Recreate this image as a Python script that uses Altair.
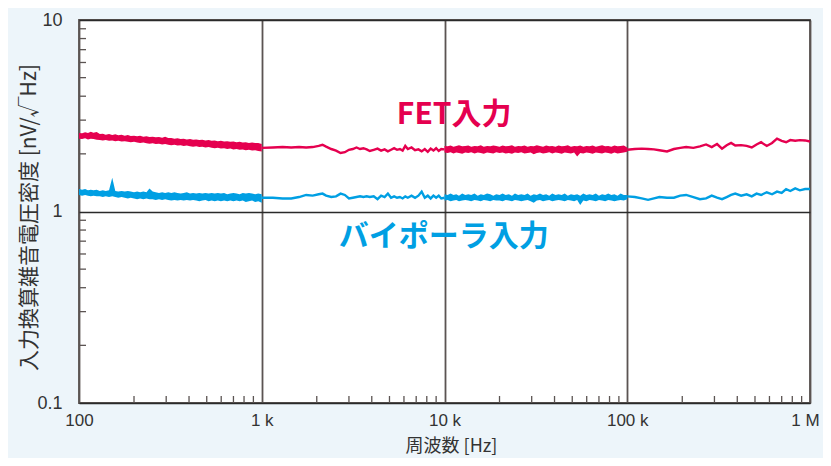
import altair as alt
import pandas as pd

# ---- data ----
# Dense (noisy) segments: upper / lower edge of the noise band
FREQ_A = [100, 104, 108, 112, 116, 120, 125, 130, 135, 140, 146, 152, 158, 164, 171, 178, 185, 192,
          200, 208, 216, 225, 234, 243, 253, 263, 274, 285, 296, 308, 320, 333, 346, 360, 374, 389,
          405, 421, 438, 455, 473, 492, 512, 532, 553, 575, 598, 622, 647, 673, 700, 728, 757, 787,
          818, 851, 885, 920, 957, 1000]
FET_A_HI = [2.57, 2.56, 2.59, 2.57, 2.61, 2.58, 2.60, 2.54, 2.55, 2.52, 2.54, 2.51, 2.53, 2.50, 2.52,
            2.49, 2.51, 2.48, 2.49, 2.47, 2.49, 2.46, 2.47, 2.45, 2.46, 2.44, 2.45, 2.43, 2.46, 2.42,
            2.42, 2.40, 2.41, 2.39, 2.40, 2.38, 2.39, 2.37, 2.38, 2.36, 2.37, 2.35, 2.36, 2.34, 2.35,
            2.33, 2.34, 2.32, 2.33, 2.31, 2.32, 2.30, 2.31, 2.29, 2.30, 2.28, 2.29, 2.28, 2.28, 2.25]
FET_A_LO = [2.40, 2.39, 2.41, 2.38, 2.40, 2.39, 2.37, 2.36, 2.35, 2.36, 2.34, 2.35, 2.33, 2.34, 2.32,
            2.33, 2.31, 2.30, 2.31, 2.29, 2.28, 2.29, 2.27, 2.26, 2.27, 2.25, 2.26, 2.24, 2.25, 2.23,
            2.22, 2.23, 2.21, 2.22, 2.20, 2.21, 2.19, 2.18, 2.19, 2.17, 2.18, 2.16, 2.17, 2.15, 2.14,
            2.15, 2.13, 2.14, 2.12, 2.13, 2.11, 2.12, 2.10, 2.11, 2.09, 2.10, 2.08, 2.09, 2.07, 2.06]
BIP_A_HI = [1.31, 1.30, 1.31, 1.29, 1.30, 1.29, 1.30, 1.28, 1.29, 1.28, 1.29, 1.50, 1.28, 1.27, 1.28,
            1.27, 1.28, 1.27, 1.26, 1.27, 1.26, 1.27, 1.26, 1.32, 1.27, 1.26, 1.25, 1.26, 1.25, 1.26,
            1.25, 1.26, 1.25, 1.24, 1.25, 1.26, 1.24, 1.25, 1.24, 1.25, 1.24, 1.25, 1.24, 1.25, 1.24,
            1.25, 1.24, 1.25, 1.23, 1.24, 1.25, 1.24, 1.23, 1.25, 1.24, 1.25, 1.24, 1.23, 1.24, 1.23]
BIP_A_LO = [1.22, 1.21, 1.22, 1.21, 1.20, 1.21, 1.20, 1.20, 1.19, 1.20, 1.19, 1.20, 1.19, 1.18, 1.19,
            1.18, 1.17, 1.18, 1.17, 1.16, 1.17, 1.16, 1.17, 1.16, 1.16, 1.15, 1.16, 1.15, 1.16, 1.15,
            1.14, 1.15, 1.14, 1.15, 1.14, 1.15, 1.14, 1.15, 1.14, 1.13, 1.14, 1.15, 1.13, 1.14, 1.13,
            1.14, 1.13, 1.14, 1.13, 1.14, 1.13, 1.14, 1.13, 1.14, 1.12, 1.13, 1.14, 1.12, 1.13, 1.11]

FREQ_C = [10000, 10400, 10800, 11200, 11600, 12000, 12500, 13000, 13500, 14000, 14600, 15200, 15800,
          16400, 17100, 17800, 18500, 19200, 20000, 20800, 21600, 22500, 23400, 24300, 25300, 26300,
          27400, 28500, 29600, 30800, 32000, 33300, 34600, 36000, 37400, 38900, 40500, 42100, 43800,
          45500, 47300, 49200, 51200, 53200, 55300, 57500, 59800, 62200, 64700, 67300, 70000, 72800,
          75700, 78700, 81800, 85100, 88500, 92000, 95700, 100000]
FET_C_HI = [2.20, 2.19, 2.21, 2.18, 2.20, 2.22, 2.19, 2.20, 2.21, 2.18, 2.20, 2.19, 2.22, 2.18, 2.20,
            2.19, 2.21, 2.20, 2.18, 2.21, 2.19, 2.20, 2.22, 2.18, 2.20, 2.19, 2.21, 2.18, 2.20, 2.19,
            2.22, 2.20, 2.18, 2.21, 2.19, 2.20, 2.18, 2.21, 2.19, 2.20, 2.22, 2.18, 2.20, 2.19, 2.21,
            2.18, 2.20, 2.19, 2.21, 2.18, 2.20, 2.22, 2.19, 2.20, 2.18, 2.21, 2.19, 2.20, 2.21, 2.16]
FET_C_LO = [2.03, 2.02, 2.04, 2.01, 2.03, 2.02, 2.00, 2.03, 2.02, 2.04, 2.01, 2.03, 2.02, 2.00, 2.03,
            2.02, 2.01, 2.04, 2.02, 2.03, 2.01, 2.02, 2.00, 2.03, 2.02, 2.04, 2.01, 2.02, 2.03, 1.99,
            2.02, 2.03, 2.01, 2.02, 2.04, 2.01, 2.03, 2.02, 2.00, 2.03, 2.02, 2.01, 2.03, 1.94, 2.02,
            2.01, 2.03, 2.02, 2.00, 2.03, 2.02, 2.01, 2.03, 2.02, 2.00, 2.03, 2.01, 2.02, 2.03, 2.05]
BIP_C_HI = [1.23, 1.22, 1.24, 1.22, 1.23, 1.21, 1.24, 1.22, 1.23, 1.22, 1.24, 1.21, 1.23, 1.22, 1.24,
            1.23, 1.21, 1.23, 1.22, 1.24, 1.22, 1.23, 1.21, 1.24, 1.22, 1.23, 1.22, 1.24, 1.21, 1.23,
            1.22, 1.24, 1.22, 1.23, 1.21, 1.24, 1.22, 1.23, 1.22, 1.24, 1.21, 1.23, 1.22, 1.23, 1.21,
            1.24, 1.22, 1.23, 1.22, 1.24, 1.21, 1.23, 1.22, 1.24, 1.22, 1.23, 1.21, 1.24, 1.22, 1.22]
BIP_C_LO = [1.14, 1.15, 1.13, 1.14, 1.15, 1.13, 1.14, 1.15, 1.14, 1.13, 1.15, 1.14, 1.13, 1.15, 1.14,
            1.13, 1.15, 1.14, 1.14, 1.13, 1.15, 1.14, 1.13, 1.15, 1.14, 1.13, 1.14, 1.15, 1.13, 1.11,
            1.14, 1.15, 1.13, 1.14, 1.15, 1.13, 1.14, 1.15, 1.14, 1.13, 1.15, 1.14, 1.13, 1.15, 1.08,
            1.14, 1.13, 1.15, 1.14, 1.13, 1.15, 1.14, 1.13, 1.15, 1.14, 1.13, 1.14, 1.15, 1.14, 1.16]

# Smoother segments: single trace
FREQ_B = [1000, 1150, 1300, 1450, 1600, 1750, 1900, 2050, 2150, 2250, 2400, 2550, 2700, 2850, 3000,
          3150, 3300, 3450, 3600, 3750, 3900, 4100, 4300, 4500, 4700, 4900, 5100, 5300, 5500, 5700,
          5900, 6100, 6300, 6600, 6900, 7200, 7500, 7800, 8100, 8400, 8700, 9000, 9300, 9600, 10000]
FET_B = [2.15, 2.16, 2.17, 2.16, 2.17, 2.16, 2.17, 2.20, 2.23, 2.18, 2.12, 2.08, 2.02, 2.04, 2.10,
         2.12, 2.16, 2.12, 2.14, 2.11, 2.07, 2.10, 2.13, 2.08, 2.11, 2.06, 2.10, 2.14, 2.10, 2.12,
         2.08, 2.20, 2.12, 2.16, 2.09, 2.11, 2.06, 2.12, 2.05, 2.13, 2.08, 2.14, 2.07, 2.12, 2.11]
BIP_B = [1.18, 1.18, 1.17, 1.17, 1.19, 1.22, 1.21, 1.23, 1.24, 1.21, 1.19, 1.20, 1.24, 1.22, 1.17,
         1.18, 1.19, 1.20, 1.19, 1.20, 1.19, 1.20, 1.16, 1.21, 1.19, 1.24, 1.18, 1.20, 1.18, 1.19,
         1.17, 1.20, 1.18, 1.21, 1.18, 1.21, 1.27, 1.18, 1.21, 1.17, 1.21, 1.18, 1.21, 1.17, 1.18]

FREQ_D = [100000, 110000, 120000, 130000, 140000, 150000, 165000, 180000, 195000, 210000, 230000,
          250000, 270000, 290000, 310000, 330000, 350000, 370000, 390000, 420000, 450000, 480000,
          510000, 540000, 580000, 620000, 660000, 700000, 740000, 780000, 830000, 880000, 940000,
          1000000]
FET_D = [2.10, 2.12, 2.13, 2.12, 2.11, 2.09, 2.06, 2.12, 2.15, 2.17, 2.15, 2.19, 2.24, 2.17, 2.25,
         2.13, 2.22, 2.28, 2.21, 2.22, 2.20, 2.16, 2.24, 2.30, 2.20, 2.28, 2.40, 2.34, 2.30, 2.36,
         2.34, 2.36, 2.35, 2.32]
BIP_D = [1.20, 1.19, 1.17, 1.15, 1.17, 1.19, 1.18, 1.18, 1.21, 1.22, 1.19, 1.16, 1.17, 1.21, 1.18,
         1.16, 1.19, 1.22, 1.24, 1.21, 1.23, 1.20, 1.24, 1.22, 1.26, 1.23, 1.27, 1.25, 1.31, 1.28,
         1.32, 1.29, 1.31, 1.31]

SERIES = ["FET入力", "バイポーラ入力"]
COLORS = ["#e5004f", "#009fe3"]

X_DECADES = [100, 1000, 10000, 100000, 1000000]
X_TICK_LABELS = ["100", "1 k", "10 k", "100 k", "1 M"]
Y_DECADES = [0.1, 1, 10]
MINOR_MULT = [2, 3, 4, 5, 6, 7, 8, 9]

LABEL_F = [11300, 9900]
LABEL_V = [3.2, 0.735]

# ---- tables ----
band_rows = []
for seg, freqs, bands in [("A", FREQ_A, [(FET_A_LO, FET_A_HI), (BIP_A_LO, BIP_A_HI)]),
                          ("C", FREQ_C, [(FET_C_LO, FET_C_HI), (BIP_C_LO, BIP_C_HI)])]:
    for name, (lo, hi) in zip(SERIES, bands):
        for f, a, b in zip(freqs, lo, hi):
            band_rows.append({"f": f, "lo": a, "hi": b, "s": name, "seg": seg + name})
band_df = pd.DataFrame(band_rows)

line_rows = []
for seg, freqs, traces in [("B", FREQ_B, [FET_B, BIP_B]), ("D", FREQ_D, [FET_D, BIP_D])]:
    for name, vals in zip(SERIES, traces):
        for f, v in zip(freqs, vals):
            line_rows.append({"f": f, "v": v, "s": name, "seg": seg + name})
line_df = pd.DataFrame(line_rows)

minor_x = pd.DataFrame({"f": [d * m for d in X_DECADES[:-1] for m in MINOR_MULT]})
minor_y = pd.DataFrame({"v": [d * m for d in Y_DECADES[:-1] for m in MINOR_MULT]})
labels = pd.DataFrame({"f": LABEL_F, "v": LABEL_V, "s": SERIES})

W, H = 731, 383
xscale = alt.Scale(type="log", domain=[100, 1000000], nice=False)
yscale = alt.Scale(type="log", domain=[0.1, 10], nice=False)
cscale = alt.Scale(domain=SERIES, range=COLORS)

label_expr = "[" + ",".join("'%s'" % t for t in X_TICK_LABELS) + "][round(log(datum.value)/LN10)-2]"

x_axis = alt.Axis(values=X_DECADES, labelExpr=label_expr, ticks=False, tickSize=0, domain=False,
                  grid=True, gridColor="#5b5452", gridWidth=1.8,
                  labelFont="Liberation Sans", labelFontSize=17, labelColor="#333333",
                  labelPadding=9, labelFlush=False, labelOverlap=False,
                  labelOffset={"condition": {"test": "datum.value >= 1000000", "value": -5},
                               "value": 0},
                  title="周波数 [Hz]", titleFont="Noto Sans CJK JP", titleFontSize=18,
                  titleFontWeight="normal", titleColor="#333333",
                  titleX=372, titleY=43, titleAlign="center", titleBaseline="middle")
y_axis = alt.Axis(values=Y_DECADES, format="~g", ticks=False, tickSize=0, domain=False,
                  grid=True, gridColor="#2a2a2a", gridWidth=1.3,
                  labelFont="Liberation Sans", labelFontSize=18, labelColor="#333333",
                  labelPadding=17, labelFlush=False, labelOverlap=False,
                  title="入力換算雑音電圧密度 [nV/√Hz]", titleFont="Noto Sans CJK JP",
                  titleFontSize=21, titleFontWeight="normal", titleColor="#333333",
                  titleAngle=-90, titleX=-50, titleY=197, titleAlign="center",
                  titleBaseline="middle")

X = alt.X("f:Q", scale=xscale, axis=x_axis)
Y = alt.Y("v:Q", scale=yscale, axis=y_axis)
C = alt.Color("s:N", scale=cscale, legend=None)

bands = alt.Chart(band_df).mark_area(opacity=1, interpolate="linear", orient="vertical").encode(
    x=X,
    y=alt.Y("lo:Q", scale=yscale, axis=y_axis, stack=None),
    y2="hi:Q",
    color=C,
    detail="seg:N",
)

lines = alt.Chart(line_df).mark_line(strokeWidth=2.4, interpolate="linear").encode(
    x=X, y=Y, color=C, detail="seg:N", order=alt.Order("f:Q"),
)

ticks_y = alt.Chart(minor_y).mark_rule(color="#5b5452", strokeWidth=1.3).encode(
    y=Y, x=alt.value(0), x2=alt.value(7),
)
ticks_x = alt.Chart(minor_x).mark_rule(color="#5b5452", strokeWidth=1.3).encode(
    x=X, y=alt.value(H), y2=alt.value(H - 7),
)

texts = alt.Chart(labels).mark_text(font="Noto Sans CJK JP", fontSize=30, fontWeight="bold",
                                    align="center", baseline="middle").encode(
    x=X, y=Y, text="s:N", color=C,
)

chart = alt.layer(lines, bands, ticks_y, ticks_x, texts).properties(
    width=W, height=H,
    padding={"left": 71, "top": 12, "right": 13, "bottom": 55},
    autosize=alt.AutoSizeParams(type="none"),
).configure(background="#edf5fa").configure_view(
    fill="white", stroke="#5b5452", strokeWidth=1.8
)

chart.save("out.html", embed_options={"renderer": "svg", "actions": False})
